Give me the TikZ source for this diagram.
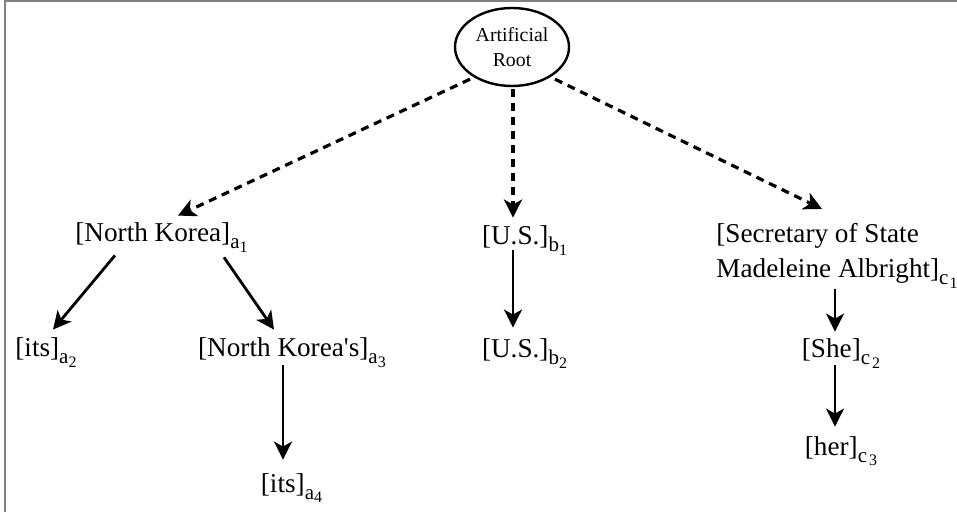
\documentclass[tikz,border=0pt]{standalone}
\usepackage{fontspec}
\setmainfont{Liberation Serif}[Ligatures=TeXOff]
\usepackage{tikz}
\usetikzlibrary{shapes.geometric, arrows.meta, positioning, calc}
\newcommand{\ment}[3]{[#1]\raisebox{-3.5pt}{\fontsize{10.5}{11}\selectfont #2\raisebox{-1.8pt}{\fontsize{8}{9}\selectfont #3}}}
\newcommand{\mentc}[3]{[#1]\raisebox{-3.5pt}{\fontsize{10.5}{11}\selectfont #2\kern1pt\raisebox{-1.8pt}{\fontsize{8}{9}\selectfont #3}}}
\tikzset{
    rootnode/.style = {ellipse, draw, line width=1.2pt, inner sep=0pt, minimum width=57pt, minimum height=39pt, align=center, font=\fontsize{9.9}{12.5}\selectfont},
    mention/.style = {inner sep=0pt, anchor=base, text height=10pt, text depth=4pt, font=\fontsize{13.6}{17.5}\selectfont},
    longmention/.style = {inner sep=0pt, anchor=north west, align=left, font=\fontsize{13.6}{17.5}\selectfont},
    arrow/.style = {line width=1.4pt, -{Stealth[length=9pt, width=9pt, inset=2.5pt]}},
    dasharrow/.style = {arrow, line width=1.6pt, dash pattern=on 4pt off 3pt}
}
\begin{document}
\begin{tikzpicture}[x=0.5pt, y=-0.5pt]
\useasboundingbox (0,0) rectangle (957,512);
\draw[gray, line width=1pt] (5,512) -- (5,1) -- (957,1);

% Nodes
\node (R) [rootnode] at (512,47) {Artificial\\Root};

\node (A1) [mention] at (161.5,242) {\ment{North Korea}{a}{1}};
\node (A2) [mention] at (46,357) {\ment{its}{a}{2}};
\node (A3) [mention] at (292,357) {\ment{North Korea's}{a}{3}};
\node (A4) [mention] at (291.5,492) {\ment{its}{a}{4}};

\node (B1) [mention] at (524.5,245) {\ment{U.S.}{b}{1}};
\node (B2) [mention] at (524.5,358) {\ment{U.S.}{b}{2}};

\node (C1) [longmention] at (716,223) {[Secretary of State\\Madeleine Albright]\raisebox{-3.5pt}{\fontsize{10.5}{11}\selectfont c\kern0.5pt\raisebox{-1.8pt}{\fontsize{8}{9}\selectfont 1}}};
\node (C2) [mention] at (841,358) {\mentc{She}{c}{2}};
\node (C3) [mention] at (841,455) {\mentc{her}{c}{3}};

% Arrows
\draw [dasharrow] ($(R.south)+(-42,-8)$) -- ($(A1.north)+(16.5,-6)$);
\draw [dasharrow] ($(R.south)+(1,2)$) -- ($(B1.north)+(-11.5,-7)$);
\draw [dasharrow] ($(R.south)+(43,-8)$) -- ($(C1.north west)+(106,-14)$);

\draw [arrow] ($(A1.south)+(-46.5,5)$) -- ($(A2.north)+(7,-7)$);
\draw [arrow] ($(A1.south)+(62.5,7)$) -- ($(A3.north)+(-18,-7)$);
\draw [arrow] ($(A3.south)+(-9,0)$) -- ($(A4.north)+(-8.5,-12)$);

\draw [arrow] ($(B1.south)+(-11.5,-3)$) -- ($(B2.north)+(-11.5,-10)$);

\draw [arrow] ($(C1.south west)+(119,0)$) -- ($(C2.north)+(-6,-6)$);
\draw [arrow] ($(C2.south)+(-6,-1)$) -- ($(C3.north)+(-6,-8)$);

\end{tikzpicture}
\end{document}
